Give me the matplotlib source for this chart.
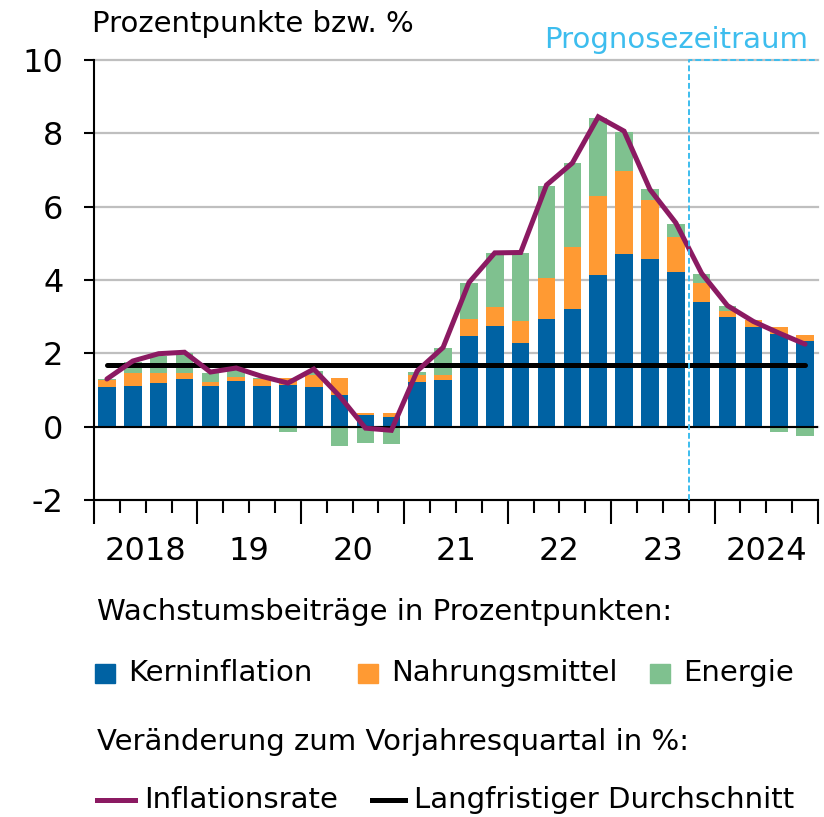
import numpy as np
import matplotlib.pyplot as plt
from matplotlib.patches import Rectangle
from matplotlib.lines import Line2D

# Quartale 2018 Q1 bis 2024 Q4
years = ["2018", "19", "20", "21", "22", "23", "2024"]
kern = [1.07, 1.12, 1.18, 1.29, 1.12, 1.24, 1.10, 1.15,
        1.07, 0.87, 0.33, 0.27, 1.22, 1.26, 2.47, 2.75,
        2.27, 2.93, 3.20, 4.14, 4.71, 4.57, 4.22, 3.41,
        2.98, 2.72, 2.54, 2.35]
nahrung = [0.21, 0.34, 0.28, 0.17, 0.11, 0.11, 0.20, 0.18,
           0.33, 0.47, 0.05, 0.10, 0.18, 0.16, 0.48, 0.52,
           0.61, 1.12, 1.71, 2.14, 2.25, 1.62, 0.96, 0.52,
           0.18, 0.18, 0.18, 0.15]
energie = [0.03, 0.31, 0.47, 0.54, 0.23, 0.23, 0.04, -0.15,
           0.13, -0.52, -0.45, -0.48, 0.10, 0.72, 0.97, 1.46,
           1.86, 2.51, 2.27, 2.15, 1.09, 0.30, 0.36, 0.23,
           0.12, 0.00, -0.15, -0.26]
inflation = [1.30, 1.79, 1.99, 2.03, 1.49, 1.60, 1.37, 1.19,
             1.57, 0.83, -0.04, -0.10, 1.52, 2.16, 3.93, 4.74,
             4.75, 6.59, 7.19, 8.45, 8.06, 6.47, 5.56, 4.18,
             3.30, 2.87, 2.55, 2.25]
durchschnitt = 1.67
prognose_start = 23  # erstes Prognosequartal: 2023 Q4

BLUE = "#0062A3"
ORANGE = "#FF9A33"
GREEN = "#7FC18F"
PURPLE = "#8B1A62"
CYAN = "#3DBDEE"

plt.rcParams['font.family'] = ['DejaVu Sans']
plt.rcParams['font.size'] = 21

W, H = 824, 817
fig = plt.figure(figsize=(W / 100, H / 100), dpi=100)
ax = fig.add_axes([94 / W, 1 - 500 / H, (818 - 94) / W, (500 - 60) / H])

n = len(kern)
x = np.arange(n)
pos_bottom = np.zeros(n)
neg_bottom = np.zeros(n)
for vals, color in [(kern, BLUE), (nahrung, ORANGE), (energie, GREEN)]:
    v = np.array(vals)
    bottom = np.where(v >= 0, pos_bottom, neg_bottom)
    ax.bar(x, v, 0.68, bottom=bottom, color=color, zorder=2)
    pos_bottom += np.clip(v, 0, None)
    neg_bottom += np.clip(v, None, 0)

ax.axhline(0, color="black", lw=1.5, zorder=3)
ax.plot([x[0], x[-1]], [durchschnitt, durchschnitt], color="black", lw=3.6,
        solid_capstyle="round", zorder=4)
ax.plot(x, inflation, color=PURPLE, lw=3.6, solid_capstyle="round",
        solid_joinstyle="miter", zorder=5)

# Prognosezeitraum
xp = prognose_start - 0.5
ax.plot([xp, xp, n - 0.5], [-2, 10, 10], color=CYAN, lw=1.4,
        ls=(0, (3, 1.5)), clip_on=False, zorder=6)
fig.text(808 / W, 1 - 40 / H, "Prognosezeitraum", color=CYAN,
         ha="right", va="center")

ax.set_xlim(-0.5, n - 0.5)
ax.set_ylim(-2, 10)
ax.set_yticks(range(-2, 11, 2))
ax.set_yticklabels([str(v) for v in range(-2, 11, 2)], fontsize=23)
ax.yaxis.grid(True, color="#BFBFBF", lw=1.6, zorder=0)
for gl in ax.get_ygridlines():
    gl.set_clip_on(False)
ax.set_axisbelow(True)

ax.set_xticks(np.arange(-0.5, n, 4))
ax.set_xticklabels([])
ax.set_xticks(np.arange(-0.5, n, 1), minor=True)
ax.tick_params(axis="x", which="major", length=17.5, width=1.5, direction="out")
ax.tick_params(axis="x", which="minor", length=9, width=1.5, direction="out")
ax.tick_params(axis="y", length=7, width=1.5, pad=15)
for i, yr in enumerate(years):
    ax.text(4 * i + 1.5, -0.118, yr, transform=ax.get_xaxis_transform(),
            ha="center", va="center", fontsize=23)

for s in ["top", "right"]:
    ax.spines[s].set_visible(False)
ax.spines["left"].set_linewidth(1.5)
ax.spines["bottom"].set_linewidth(1.5)

fig.text(92 / W, 1 - 24 / H, "Prozentpunkte bzw. %", ha="left", va="center")

# Legende
fig.text(97 / W, 1 - 612 / H, "Wachstumsbeiträge in Prozentpunkten:",
         ha="left", va="center")
for x0, color, label in [(95, BLUE, "Kerninflation"),
                         (358, ORANGE, "Nahrungsmittel"),
                         (650, GREEN, "Energie")]:
    fig.patches.append(Rectangle((x0 / W, 1 - 683 / H), 20 / W, 19 / H,
                                 color=color, transform=fig.transFigure))
    fig.text((x0 + 33) / W, 1 - 673 / H, label, ha="left", va="center")

fig.text(97 / W, 1 - 742 / H, "Veränderung zum Vorjahresquartal in %:",
         ha="left", va="center")
for x0, x1, color, label in [(97, 135, PURPLE, "Inflationsrate"),
                             (372, 405, "black", "Langfristiger Durchschnitt")]:
    fig.lines.append(Line2D([x0 / W, x1 / W], [1 - 800 / H, 1 - 800 / H],
                            color=color, lw=3.6, transform=fig.transFigure))
    fig.text((x1 + 9) / W, 1 - 800 / H, label, ha="left", va="center")

fig.savefig("out.png", dpi=100)
